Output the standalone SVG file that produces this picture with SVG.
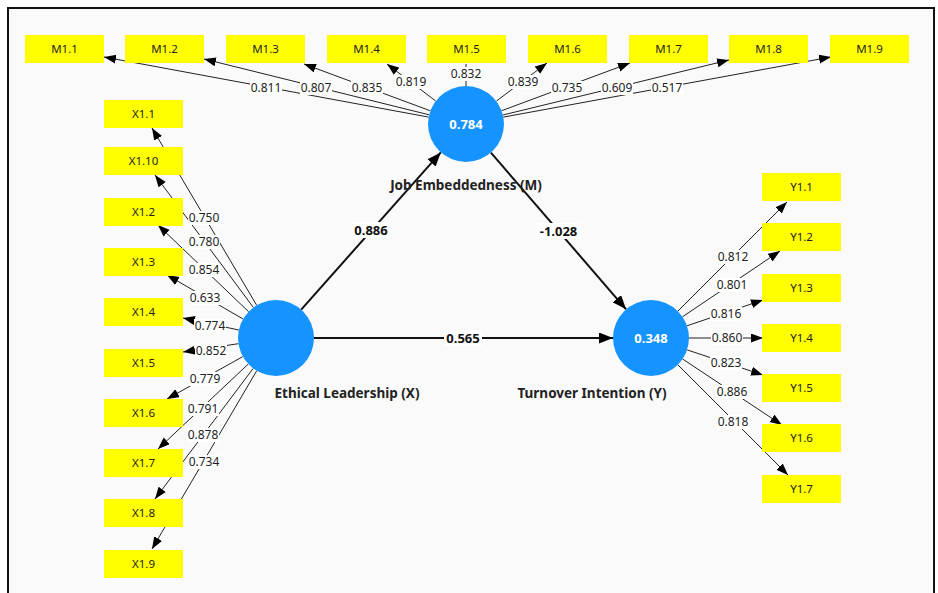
<svg xmlns="http://www.w3.org/2000/svg" width="938" height="593" viewBox="0 0 938 593">
<style>
.bg{fill:#fafafa;stroke:#111;stroke-width:2}
.box{fill:#ffff00}
.bt{font-family:"Noto Sans","Open Sans",sans-serif;font-size:11.5px;fill:#222;text-anchor:middle}
.lv{fill:#1593ff}
.cv{font-family:"Noto Sans","Open Sans",sans-serif;font-size:13px;font-weight:bold;fill:#fff;text-anchor:middle}
.nm{font-family:"Noto Sans","Open Sans",sans-serif;font-size:13.5px;font-weight:bold;fill:#222;text-anchor:middle}
.ld{stroke:#222;stroke-width:1;fill:none}
.st{stroke:#111;stroke-width:2;fill:none}
.lb{fill:#fff}
.lt{font-family:"Noto Sans","Open Sans",sans-serif;font-size:12px;fill:#222;text-anchor:middle}
.slt{font-family:"Noto Sans","Open Sans",sans-serif;font-size:13px;font-weight:bold;fill:#111;text-anchor:middle}
</style>
<defs>
<marker id="a" markerUnits="userSpaceOnUse" markerWidth="12" markerHeight="10" refX="12" refY="4.5" orient="auto"><path d="M0,0 L12,4.5 L0,9 z" fill="#000"/></marker>
<marker id="b" markerUnits="userSpaceOnUse" markerWidth="14" markerHeight="12" refX="14" refY="5.5" orient="auto"><path d="M0,0 L14,5.5 L0,11 z" fill="#000"/></marker>
</defs>
<rect class="bg" x="8" y="8" width="926" height="600"/>

<g id="connectors">
<line class="ld" x1="428.6" y1="117.1" x2="104" y2="57" marker-end="url(#a)"/>
<line class="ld" x1="429.1" y1="114.8" x2="204" y2="59" marker-end="url(#a)"/>
<line class="ld" x1="430.4" y1="110.8" x2="304" y2="64" marker-end="url(#a)"/>
<line class="ld" x1="435.7" y1="101" x2="387" y2="64" marker-end="url(#a)"/>
<line class="ld" x1="466" y1="86" x2="466" y2="64"/>
<line class="ld" x1="496.4" y1="101.1" x2="547" y2="63" marker-end="url(#a)"/>
<line class="ld" x1="501.6" y1="110.7" x2="630" y2="63" marker-end="url(#a)"/>
<line class="ld" x1="502.9" y1="115" x2="729" y2="60" marker-end="url(#a)"/>
<line class="ld" x1="503.4" y1="117.1" x2="831" y2="57" marker-end="url(#a)"/>
<line class="ld" x1="256.7" y1="305.3" x2="152" y2="128" marker-end="url(#a)"/>
<line class="ld" x1="253.4" y1="307.5" x2="155" y2="175" marker-end="url(#a)"/>
<line class="ld" x1="248.6" y1="311.7" x2="158" y2="225" marker-end="url(#a)"/>
<line class="ld" x1="243.1" y1="319" x2="167" y2="275" marker-end="url(#a)"/>
<line class="ld" x1="238.8" y1="330" x2="183" y2="318" marker-end="url(#a)"/>
<line class="ld" x1="238.4" y1="343.7" x2="183" y2="352" marker-end="url(#a)"/>
<line class="ld" x1="242.8" y1="356.6" x2="167" y2="399" marker-end="url(#a)"/>
<line class="ld" x1="248.3" y1="364" x2="158" y2="449" marker-end="url(#a)"/>
<line class="ld" x1="253.2" y1="368.4" x2="155" y2="499" marker-end="url(#a)"/>
<line class="ld" x1="256.7" y1="370.8" x2="152" y2="549" marker-end="url(#a)"/>
<line class="ld" x1="677.9" y1="311.1" x2="787" y2="202" marker-end="url(#a)"/>
<line class="ld" x1="682.5" y1="316.8" x2="780" y2="251" marker-end="url(#a)"/>
<line class="ld" x1="687" y1="325.8" x2="763" y2="300" marker-end="url(#a)"/>
<line class="ld" x1="689" y1="338" x2="763" y2="338" marker-end="url(#a)"/>
<line class="ld" x1="687.1" y1="349.9" x2="763" y2="375" marker-end="url(#a)"/>
<line class="ld" x1="682.6" y1="359" x2="782" y2="425" marker-end="url(#a)"/>
<line class="ld" x1="677.9" y1="364.9" x2="788" y2="475" marker-end="url(#a)"/>
<line class="st" x1="301.2" y1="309.6" x2="440.8" y2="152.4" marker-end="url(#b)"/>
<line class="st" x1="490.9" y1="152.7" x2="626.1" y2="309.3" marker-end="url(#b)"/>
<line class="st" x1="314" y1="338" x2="613" y2="338" marker-end="url(#b)"/>

<g>
<rect class="lb" x="250" y="81" width="32" height="14"/><text class="lt" x="266" y="92">0.811</text>
<rect class="lb" x="300" y="81" width="32" height="14"/><text class="lt" x="316" y="92">0.807</text>
<rect class="lb" x="351" y="81" width="32" height="14"/><text class="lt" x="367" y="92">0.835</text>
<rect class="lb" x="395" y="75" width="32" height="14"/><text class="lt" x="411" y="86">0.819</text>
<rect class="lb" x="450" y="67" width="32" height="14"/><text class="lt" x="466" y="78">0.832</text>
<rect class="lb" x="507" y="75" width="32" height="14"/><text class="lt" x="523" y="86">0.839</text>
<rect class="lb" x="551" y="81" width="32" height="14"/><text class="lt" x="567" y="92">0.735</text>
<rect class="lb" x="601" y="81" width="32" height="14"/><text class="lt" x="617" y="92">0.609</text>
<rect class="lb" x="651" y="81" width="32" height="14"/><text class="lt" x="667" y="92">0.517</text>
<rect class="lb" x="188" y="211" width="32" height="14"/><text class="lt" x="204" y="222">0.750</text>
<rect class="lb" x="188" y="235" width="32" height="14"/><text class="lt" x="204" y="246">0.780</text>
<rect class="lb" x="188" y="263" width="32" height="14"/><text class="lt" x="204" y="274">0.854</text>
<rect class="lb" x="189" y="291" width="32" height="14"/><text class="lt" x="205" y="302">0.633</text>
<rect class="lb" x="194" y="319" width="32" height="14"/><text class="lt" x="210" y="330">0.774</text>
<rect class="lb" x="195" y="344" width="32" height="14"/><text class="lt" x="211" y="355">0.852</text>
<rect class="lb" x="189" y="372" width="32" height="14"/><text class="lt" x="205" y="383">0.779</text>
<rect class="lb" x="187" y="402" width="32" height="14"/><text class="lt" x="203" y="413">0.791</text>
<rect class="lb" x="187" y="428" width="32" height="14"/><text class="lt" x="203" y="439">0.878</text>
<rect class="lb" x="188" y="455" width="32" height="14"/><text class="lt" x="204" y="466">0.734</text>
<rect class="lb" x="717" y="250" width="32" height="14"/><text class="lt" x="733" y="261">0.812</text>
<rect class="lb" x="716" y="278" width="32" height="14"/><text class="lt" x="732" y="289">0.801</text>
<rect class="lb" x="710" y="307" width="32" height="14"/><text class="lt" x="726" y="318">0.816</text>
<rect class="lb" x="711" y="331" width="32" height="14"/><text class="lt" x="727" y="342">0.860</text>
<rect class="lb" x="710" y="356" width="32" height="14"/><text class="lt" x="726" y="367">0.823</text>
<rect class="lb" x="716" y="385" width="32" height="14"/><text class="lt" x="732" y="396">0.886</text>
<rect class="lb" x="717" y="415" width="32" height="14"/><text class="lt" x="733" y="426">0.818</text>
</g>
<g>
<rect class="lb" x="352" y="222" width="38" height="16"/><text class="slt" x="371" y="235">0.886</text>
<rect class="lb" x="536" y="223" width="45" height="16"/><text class="slt" x="558.5" y="236">-1.028</text>
<rect class="lb" x="444" y="330" width="38" height="16"/><text class="slt" x="463" y="343">0.565</text>
</g>
</g>

<g id="M"><circle class="lv" cx="466" cy="124" r="38"/><text class="cv" x="466" y="128.5">0.784</text><text class="nm" x="466" y="190">Job Embeddedness (M)</text></g>
<g id="X"><circle class="lv" cx="276" cy="338" r="38"/><text class="nm" x="347" y="398">Ethical Leadership (X)</text></g>
<g id="Y"><circle class="lv" cx="651" cy="338" r="38"/><text class="cv" x="651" y="342.5">0.348</text><text class="nm" x="592" y="398">Turnover Intention (Y)</text></g>

<g id="M1.1"><rect class="box" x="25" y="35" width="79" height="28"/><text class="bt" x="64.5" y="53">M1.1</text></g>
<g id="M1.2"><rect class="box" x="125" y="35" width="79" height="28"/><text class="bt" x="164.5" y="53">M1.2</text></g>
<g id="M1.3"><rect class="box" x="226" y="35" width="79" height="28"/><text class="bt" x="265.5" y="53">M1.3</text></g>
<g id="M1.4"><rect class="box" x="327" y="35" width="79" height="28"/><text class="bt" x="366.5" y="53">M1.4</text></g>
<g id="M1.5"><rect class="box" x="427" y="35" width="79" height="28"/><text class="bt" x="466.5" y="53">M1.5</text></g>
<g id="M1.6"><rect class="box" x="528" y="35" width="79" height="28"/><text class="bt" x="567.5" y="53">M1.6</text></g>
<g id="M1.7"><rect class="box" x="629" y="35" width="79" height="28"/><text class="bt" x="668.5" y="53">M1.7</text></g>
<g id="M1.8"><rect class="box" x="729" y="35" width="79" height="28"/><text class="bt" x="768.5" y="53">M1.8</text></g>
<g id="M1.9"><rect class="box" x="830" y="35" width="79" height="28"/><text class="bt" x="869.5" y="53">M1.9</text></g>

<g id="X1.1"><rect class="box" x="104" y="100" width="79" height="28"/><text class="bt" x="143.5" y="118">X1.1</text></g>
<g id="X1.10"><rect class="box" x="104" y="147" width="79" height="28"/><text class="bt" x="143.5" y="165">X1.10</text></g>
<g id="X1.2"><rect class="box" x="104" y="198" width="79" height="28"/><text class="bt" x="143.5" y="216">X1.2</text></g>
<g id="X1.3"><rect class="box" x="104" y="248" width="79" height="28"/><text class="bt" x="143.5" y="266">X1.3</text></g>
<g id="X1.4"><rect class="box" x="104" y="298" width="79" height="28"/><text class="bt" x="143.5" y="316">X1.4</text></g>
<g id="X1.5"><rect class="box" x="104" y="349" width="79" height="28"/><text class="bt" x="143.5" y="367">X1.5</text></g>
<g id="X1.6"><rect class="box" x="104" y="399" width="79" height="28"/><text class="bt" x="143.5" y="417">X1.6</text></g>
<g id="X1.7"><rect class="box" x="104" y="449" width="79" height="28"/><text class="bt" x="143.5" y="467">X1.7</text></g>
<g id="X1.8"><rect class="box" x="104" y="499" width="79" height="28"/><text class="bt" x="143.5" y="517">X1.8</text></g>
<g id="X1.9"><rect class="box" x="104" y="550" width="79" height="28"/><text class="bt" x="143.5" y="568">X1.9</text></g>

<g id="Y1.1"><rect class="box" x="762" y="173" width="79" height="28"/><text class="bt" x="801.5" y="191">Y1.1</text></g>
<g id="Y1.2"><rect class="box" x="762" y="223" width="79" height="28"/><text class="bt" x="801.5" y="241">Y1.2</text></g>
<g id="Y1.3"><rect class="box" x="762" y="274" width="79" height="28"/><text class="bt" x="801.5" y="292">Y1.3</text></g>
<g id="Y1.4"><rect class="box" x="762" y="324" width="79" height="28"/><text class="bt" x="801.5" y="342">Y1.4</text></g>
<g id="Y1.5"><rect class="box" x="762" y="374" width="79" height="28"/><text class="bt" x="801.5" y="392">Y1.5</text></g>
<g id="Y1.6"><rect class="box" x="762" y="424" width="79" height="28"/><text class="bt" x="801.5" y="442">Y1.6</text></g>
<g id="Y1.7"><rect class="box" x="762" y="475" width="79" height="28"/><text class="bt" x="801.5" y="493">Y1.7</text></g>
</svg>
